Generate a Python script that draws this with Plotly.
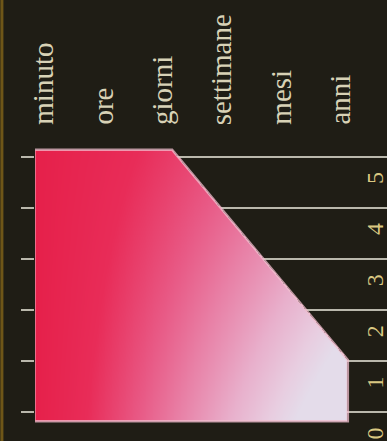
import numpy as np
import plotly.graph_objects as go

# Time-scale categories shown across the top
categories = ["minuto", "ore", "giorni", "settimane", "mesi", "anni"]
# Scale values on the vertical axis
levels = [0, 1, 2, 3, 4, 5]
level_labels = ["0", "1", "2", "3", "4", "5"]

# Outline of the shaded area (x in category units, y in scale units)
shape_x = [-0.14, -0.14, 2.18, 5.14, 5.14]
shape_y = [-0.17, 5.14, 5.14, 1.03, -0.17]

BG = "rgb(31,29,21)"
GRID = "rgb(186,184,172)"
LABEL = "rgb(216,210,182)"
DIGIT = "rgb(218,200,130)"

# Fine grid covering the shape, masked to its interior
px = np.array(shape_x + [shape_x[0]])
py = np.array(shape_y + [shape_y[0]])
gx = np.linspace(min(shape_x), max(shape_x), 360)
gy = np.linspace(min(shape_y), max(shape_y), 300)
X, Y = np.meshgrid(gx, gy)
inside = np.zeros(X.shape, dtype=bool)
for i in range(len(px) - 1):
    x1, y1, x2, y2 = px[i], py[i], px[i + 1], py[i + 1]
    if y1 == y2:
        continue
    crosses = (Y >= min(y1, y2)) & (Y < max(y1, y2))
    xc = x1 + (Y - y1) * (x2 - x1) / (y2 - y1)
    inside ^= crosses & (X < xc)

xn = (X - gx.min()) / (gx.max() - gx.min())
yn = (gy.max() - Y) / (gy.max() - gy.min())
shade = np.clip(xn * (0.6 + 0.6 * yn), 0, 1)
shade = np.where(inside, shade, np.nan)

colorscale = [
    [0.0, "rgb(230,32,74)"],
    [0.2, "rgb(232,44,88)"],
    [0.4, "rgb(232,90,134)"],
    [0.55, "rgb(232,128,166)"],
    [0.75, "rgb(232,176,204)"],
    [0.9, "rgb(232,205,224)"],
    [1.0, "rgb(228,220,234)"],
]

fig = go.Figure()
fig.add_trace(go.Heatmap(
    x=gx, y=gy, z=shade, colorscale=colorscale, zmin=0, zmax=1,
    showscale=False, hoverinfo="skip",
))
fig.add_trace(go.Scatter(
    x=shape_x + [shape_x[0]], y=shape_y + [shape_y[0]], mode="lines",
    line=dict(color="rgba(240,190,205,0.75)", width=2.5),
    hoverinfo="skip", showlegend=False,
))

# Category names, rotated, above the plot
for i, name in enumerate(categories):
    fig.add_annotation(
        x=i, y=1, xref="x", yref="paper", text=name, showarrow=False,
        textangle=-90, xanchor="center", yanchor="bottom", yshift=8,
        font=dict(family="Liberation Serif", size=29, color=LABEL),
    )

# Scale numbers along the right edge
for v, lab in zip(levels, level_labels):
    fig.add_annotation(
        x=1, y=v, xref="paper", yref="y", text=lab, showarrow=False,
        textangle=-90, xanchor="right", yanchor="middle", yshift=-21, xshift=3,
        font=dict(family="Liberation Serif", size=24, color=DIGIT),
    )

# Thin amber edge at the far left
fig.add_shape(type="line", xref="paper", yref="paper", x0=-0.094, x1=-0.094,
              y0=-0.5, y1=1.5, line=dict(color="rgb(110,86,24)", width=3))

fig.update_layout(
    width=387, height=441,
    margin=dict(l=35, r=0, t=135, b=0),
    paper_bgcolor=BG, plot_bgcolor=BG,
    showlegend=False,
    xaxis=dict(range=[-0.13, 5.8], showgrid=False, zeroline=False,
               showticklabels=False, showline=False, fixedrange=True),
    yaxis=dict(range=[-0.558, 5.43], tickvals=levels, showticklabels=False,
               showgrid=True, gridcolor=GRID, gridwidth=2, zeroline=False,
               ticks="outside", ticklen=13, tickwidth=2, tickcolor=GRID,
               showline=False, fixedrange=True),
)

fig.write_html("out.html")
